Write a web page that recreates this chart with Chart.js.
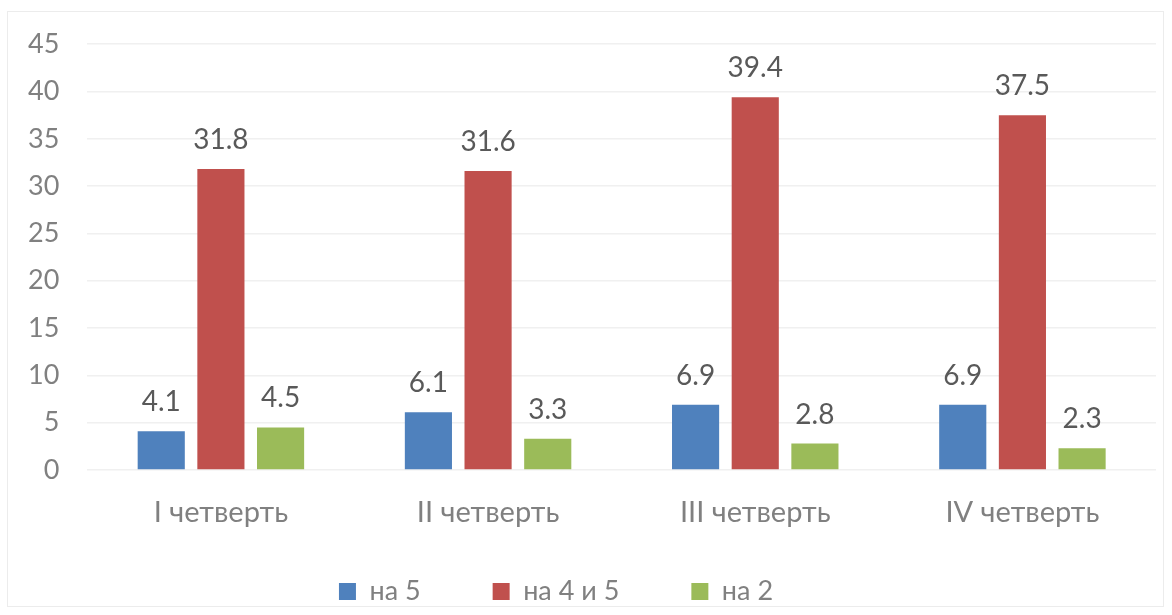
<!DOCTYPE html>
<html>
<head>
<meta charset="utf-8">
<script src="https://cdn.jsdelivr.net/npm/chart.js@4/dist/chart.umd.min.js"></script>
<style>
    body { margin: 0; background: #ffffff; }
    #wrap { position: relative; width: 1172px; height: 615px; }
    #frame { position: absolute; left: 7px; top: 11px; width: 1157px; height: 596px; border: 1px solid #ececec; box-sizing: border-box; }
    #chart { position: absolute; left: 0; top: 0; }
</style>
</head>
<body>
<div id="wrap">
    <div id="frame"></div>
    <canvas id="chart" width="1172" height="615"></canvas>
</div>
<script>
const categories = ['I четверть', 'II четверть', 'III четверть', 'IV четверть'];
const seriesNames = ['на 5', 'на 4 и 5', 'на 2'];
const na5 = [4.1, 6.1, 6.9, 6.9];
const na45 = [31.8, 31.6, 39.4, 37.5];
const na2 = [4.5, 3.3, 2.8, 2.3];
const yTicks = [0, 5, 10, 15, 20, 25, 30, 35, 40, 45];

const fontFamily = 'Lato, "Open Sans", sans-serif';

// подписи значений над столбцами
const valueLabels = {
    id: 'valueLabels',
    afterDatasetsDraw(chart) {
        const ctx = chart.ctx;
        ctx.save();
        ctx.font = '28px ' + fontFamily;
        ctx.fillStyle = '#595959';
        ctx.textAlign = 'center';
        ctx.textBaseline = 'bottom';
        chart.data.datasets.forEach((ds, i) => {
            chart.getDatasetMeta(i).data.forEach((bar, j) => {
                ctx.fillText(ds.data[j].toFixed(1), bar.x, bar.y - 15);
            });
        });
        ctx.restore();
    }
};

// легенда чуть левее центра; подписи оси X не обрезать
const layoutTweaks = {
    id: 'layoutTweaks',
    afterLayout(chart) {
        chart.legend.left -= 22;
        chart.legend.right -= 22;
        chart.scales.x.bottom = chart.height;
    }
};

new Chart(document.getElementById('chart'), {
    type: 'bar',
    data: {
        labels: categories,
        datasets: [
            { label: seriesNames[0], data: na5, backgroundColor: '#4f81bd' },
            { label: seriesNames[1], data: na45, backgroundColor: '#c0504d' },
            { label: seriesNames[2], data: na2, backgroundColor: '#9bbb59' }
        ]
    },
    options: {
        responsive: false,
        animation: false,
        categoryPercentage: 0.67,
        barPercentage: 0.79,
        layout: {
            padding: { left: 0, right: 16, top: 30, bottom: 0 }
        },
        scales: {
            x: {
                grid: { display: false },
                border: { display: false },
                afterFit: scale => { scale.height = 36; },
                ticks: {
                    padding: 17,
                    color: '#808080',
                    font: { family: fontFamily, size: 29 }
                }
            },
            y: {
                min: 0,
                max: 45,
                afterBuildTicks: axis => { axis.ticks = yTicks.map(v => ({ value: v })); },
                grid: { color: '#f0f0f0', lineWidth: 1.5, drawTicks: false },
                border: { display: false },
                ticks: {
                    padding: 28,
                    color: '#808080',
                    font: { family: fontFamily, size: 27 }
                }
            }
        },
        plugins: {
            legend: {
                position: 'bottom',
                labels: {
                    boxWidth: 17,
                    boxHeight: 17,
                    padding: 72,
                    color: '#808080',
                    font: { family: fontFamily, size: 27 }
                }
            },
            tooltip: { enabled: false }
        }
    },
    plugins: [valueLabels, layoutTweaks]
});
</script>
</body>
</html>
